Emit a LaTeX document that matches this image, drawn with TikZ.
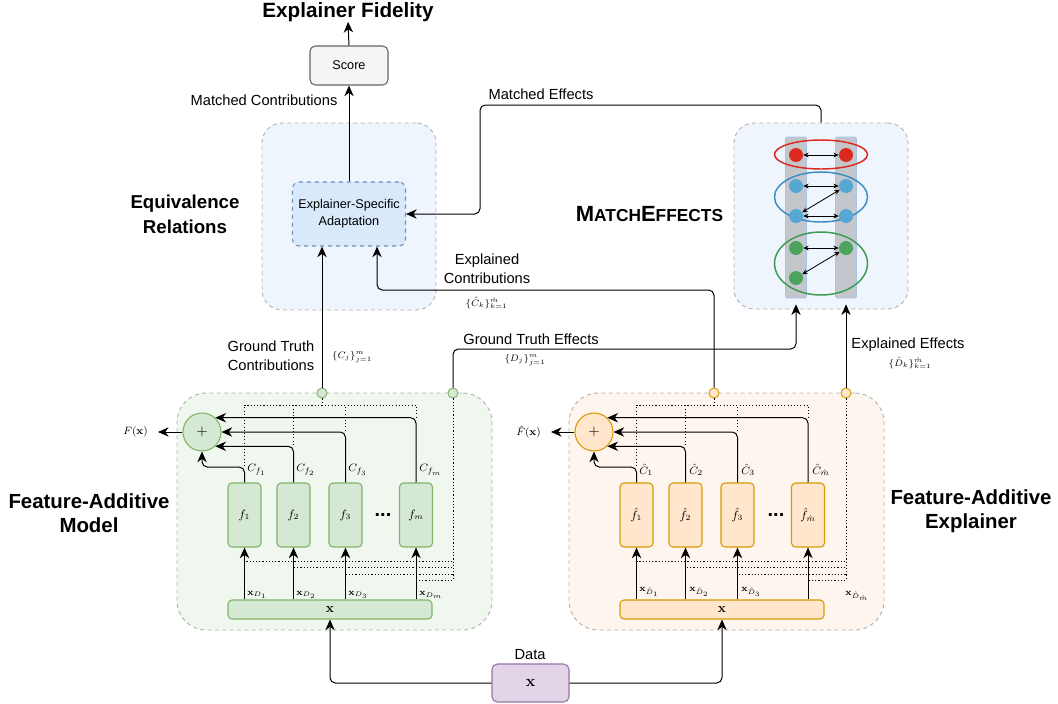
\documentclass[tikz,border=0pt]{standalone}
\usepackage[no-math]{fontspec}
\setmainfont{Liberation Sans}
\usetikzlibrary{arrows.meta,shapes.geometric,calc}
\definecolor{gfill}{HTML}{D5E8D4}\definecolor{gline}{HTML}{82B366}
\definecolor{ofill}{HTML}{FFE6CC}\definecolor{oline}{HTML}{D79B00}
\definecolor{bfill}{HTML}{DAE8FC}\definecolor{bline}{HTML}{6C8EBF}
\definecolor{pfill}{HTML}{E1D5E7}\definecolor{pline}{HTML}{9673A6}
\definecolor{sfill}{HTML}{F5F5F5}\definecolor{sline}{HTML}{666666}
\definecolor{cline}{HTML}{B3B3B3}
\definecolor{lbfill}{HTML}{EFF5FD}
\definecolor{lgfill}{HTML}{F0F7EF}
\definecolor{lofill}{HTML}{FDF5EE}
\definecolor{barfill}{HTML}{C3C7CC}
\definecolor{barline}{HTML}{A9C4EB}
\definecolor{rdot}{HTML}{DC2A1E}
\definecolor{bdot}{HTML}{55A7D4}\definecolor{bell}{HTML}{3A8DC0}
\definecolor{gdot}{HTML}{4CA35E}\definecolor{gell}{HTML}{3D9A50}
\begin{document}
\begin{tikzpicture}[x=0.75pt,y=-0.75pt,
 arr/.style={-{Stealth[length=8pt,width=7pt,inset=2.5pt]}, line width=0.75pt},
 darr/.style={{Stealth[length=4pt,width=3.5pt]}-{Stealth[length=4pt,width=3.5pt]}, line width=0.6pt},
 dotl/.style={line width=0.7pt, dash pattern=on 0.8pt off 1.6pt},
 container/.style={draw=cline, dash pattern=on 3pt off 2.5pt, line width=0.7pt, rounded corners=15pt, inner sep=0pt},
 lbl/.style={font=\fontsize{11}{14}\selectfont, align=center, inner sep=0pt},
 big/.style={font=\bfseries\fontsize{14}{18.5}\selectfont, align=center, inner sep=0pt},
 ml/.style={font=\fontsize{7.5}{8}\selectfont, inner sep=0pt},
 cl/.style={font=\fontsize{8}{9}\selectfont, inner sep=0pt, anchor=west},
 xl/.style={font=\fontsize{7}{8}\selectfont, inner sep=0pt, anchor=west},
 fbox/.style={rounded corners=3pt, minimum width=24.75pt, minimum height=48pt, inner sep=0pt, line width=0.8pt, font=\fontsize{9}{10}\selectfont},
 xbar/.style={rounded corners=3pt, minimum width=153pt, minimum height=14.25pt, inner sep=0pt, line width=0.8pt, font=\fontsize{10}{10}\selectfont},
 sumc/.style={circle, minimum size=28.5pt, inner sep=0pt, line width=0.8pt, font=\fontsize{11}{12}\selectfont},
 smallc/.style={circle, minimum size=7.5pt, inner sep=0pt, line width=0.7pt},
 dotn/.style={circle, minimum size=10.5pt, inner sep=0pt},
 ell/.style={ellipse, line width=1.1pt, minimum width=69.75pt, inner sep=0pt},
 bar/.style={fill=barfill, draw=barline, line width=0.5pt, minimum width=15.75pt, minimum height=120.75pt, inner sep=0pt, rounded corners=1pt},
 dotsty/.style={inner sep=0pt, font=\bfseries\fontsize{15}{15}\selectfont}
]
\useasboundingbox (0,0) rectangle (1058,704);
\fill[white] (0,0) rectangle (1058,704);

% containers
\node[container, fill=lbfill, minimum width=130.5pt, minimum height=140.25pt] (eq) at (349,216.5) {};
\node[container, fill=lbfill, minimum width=130.5pt, minimum height=139.5pt] (me) at (821,216) {};
\node[container, fill=lgfill, minimum width=236.25pt, minimum height=177.75pt, rounded corners=22pt] (fam) at (334.5,511.5) {};
\node[container, fill=lofill, minimum width=236.25pt, minimum height=177.75pt, rounded corners=22pt] (fae) at (726.5,511.5) {};

% top
\node[big, font=\bfseries\fontsize{15.5}{18}\selectfont] (title) at (348,12) {Explainer Fidelity};
\node[draw=sline, fill=sfill, rounded corners=4pt, minimum width=58.5pt, minimum height=29.25pt, inner sep=0pt, line width=0.8pt, font=\fontsize{9.5}{11}\selectfont] (score) at (349,65.5) {Score};
\node[draw=bline, fill=bfill, dashed, rounded corners=5pt, minimum width=84.75pt, minimum height=48pt, inner sep=0pt, line width=0.8pt, font=\fontsize{9.5}{13}\selectfont, align=center] (esa) at (349,214) {Explainer-Specific\\Adaptation};
\draw[arr] (score.north) -- (title.south);
\draw[arr] (esa.north) -- (score.south);

% big labels
\node[big] (eqlbl) at (185,214.5) {Equivalence\\Relations};
\node[big, font=\bfseries\fontsize{16.5}{18}\selectfont] (melbl) at (649.5,214) {M{\fontsize{13}{13}\selectfont ATCH}E{\fontsize{13}{13}\selectfont FFECTS}};
\node[big, font=\bfseries\fontsize{15.3}{18}\selectfont] (famlbl) at (89,513) {Feature-Additive\\Model};
\node[big, font=\bfseries\fontsize{15.3}{18}\selectfont] (faelbl) at (971,511) {Feature-Additive\\Explainer};

% match effects internals
\node[bar] (lbar) at (796,217.5) {};
\node[bar] (rbar) at (846,217.5) {};
\node[ell, draw=rdot, minimum height=21.75pt] (ered) at (821,154.5) {};
\node[ell, draw=bell, minimum height=37.5pt] (eblue) at (821,197) {};
\node[ell, draw=gell, minimum height=47.25pt] (egreen) at (821,263.5) {};
\node[dotn, fill=rdot] (r1) at (796,155) {};
\node[dotn, fill=rdot] (r2) at (846,155) {};
\node[dotn, fill=bdot] (b1) at (796,186) {};
\node[dotn, fill=bdot] (b2) at (846,186) {};
\node[dotn, fill=bdot] (b3) at (796,216) {};
\node[dotn, fill=bdot] (b4) at (846,216) {};
\node[dotn, fill=gdot] (g1) at (796,248) {};
\node[dotn, fill=gdot] (g2) at (846,248) {};
\node[dotn, fill=gdot] (g3) at (796,278) {};
\draw[darr] (r1) -- (r2);
\draw[darr] (b1) -- (b2);
\draw[darr] (b2) -- (b3);
\draw[darr] (b3) -- (b4);
\draw[darr] (g1) -- (g2);
\draw[darr] (g2) -- (g3);

% small connector circles
\node[smallc, fill=gfill, draw=gline] (gc1) at (322,393) {};
\node[smallc, fill=gfill, draw=gline] (gc2) at (453,393) {};
\node[smallc, fill=ofill, draw=oline] (oc1) at (714,393) {};
\node[smallc, fill=ofill, draw=oline] (oc2) at (846,393) {};

% main connectors
\coordinate (mecorner) at (480,105);
\draw[arr, rounded corners=4pt] (me.north) |- (mecorner) |- (esa.east);
\draw[arr] (gc1.north) -- (gc1.north |- esa.south);
\coordinate (ecc) at (377,290);
\draw[arr, rounded corners=4pt] (oc1.north) |- (ecc) -- (ecc |- esa.south);
\coordinate (gec) at (796,349);
\draw[arr, rounded corners=4pt] (gc2.north) |- (gec) -- ($(lbar.south)+(0,6)$);
\draw[arr] (oc2.north) -- ($(rbar.south)+(0,6)$);

% connector labels
\node[lbl] (mclbl) at (264,100) {Matched Contributions};
\node[lbl] (melbl2) at (541,94) {Matched Effects};
\node[lbl] (eclbl) at (487,268.5) {Explained\\Contributions};
\node[lbl] (gclbl) at (271,356) {Ground Truth\\Contributions};
\node[lbl] (gelbl) at (531,339) {Ground Truth Effects};
\node[lbl] (eelbl) at (908,345) {Explained Effects};
\node[ml] (cj) at (352,357) {$\{C_j\}_{j=1}^{m}$};
\node[ml] (dj) at (525,360) {$\{D_j\}_{j=1}^{m}$};
\node[ml] (chk) at (486.5,303) {$\{\hat C_k\}_{k=1}^{\hat m}$};
\node[ml] (dhk) at (910,363) {$\{\hat D_k\}_{k=1}^{\hat m}$};

% ===== left: feature-additive model =====
\node[sumc, fill=gfill, draw=gline] (sumL) at (202,432) {$+$};
\node[font=\fontsize{8}{9}\selectfont, inner sep=0pt, anchor=east] (FL) at (148,432) {$F(\mathbf{x})$};
\draw[arr, shorten >=7.5pt] (sumL.west) -- (FL.east);
\node[fbox, fill=gfill, draw=gline] (f1) at (244.5,515) {$f_1$};
\node[fbox, fill=gfill, draw=gline] (f2) at (293.5,515) {$f_2$};
\node[fbox, fill=gfill, draw=gline] (f3) at (345.5,515) {$f_3$};
\node[fbox, fill=gfill, draw=gline] (fm) at (416,515) {$f_m$};
\node[dotsty] (dotsL) at (383,515) {...};
\node[xbar, fill=gfill, draw=gline] (xL) at (330,609.5) {$\mathbf{x}$};
\draw[arr] (f1.south |- xL.north) -- (f1.south);
\draw[arr] (f2.south |- xL.north) -- (f2.south);
\draw[arr] (f3.south |- xL.north) -- (f3.south);
\draw[arr] (fm.south |- xL.north) -- (fm.south);
\node[xl] (xd1) at (247,595) {$\mathbf{x}_{D_1}$};
\node[xl] (xd2) at (296,595) {$\mathbf{x}_{D_2}$};
\node[xl] (xd3) at (348,595) {$\mathbf{x}_{D_3}$};
\node[xl] (xdm) at (419,595) {$\mathbf{x}_{D_m}$};
\coordinate (c1L) at (244.5,467);
\draw[arr, rounded corners=4pt] (f1.north) -- (c1L) -| (sumL.south);
\draw[arr, rounded corners=4pt] (f2.north) |- (sumL.-47);
\draw[arr, rounded corners=4pt] (f3.north) |- (sumL.east);
\draw[arr, rounded corners=4pt] (fm.north) |- (sumL.47);
\node[cl] (cf1) at (247,470) {$C_{f_1}$};
\node[cl] (cf2) at (296,470) {$C_{f_2}$};
\node[cl] (cf3) at (348,470) {$C_{f_3}$};
\node[cl] (cfm) at (419,470) {$C_{f_m}$};
\coordinate (tdL) at (322,405);
\coordinate (bd1) at (244.5,561);
\coordinate (bd2) at (293.5,567);
\coordinate (bd3) at (345.5,574);
\coordinate (bd4) at (416,580);
\draw[dotl] (gc1.south) -- (tdL) -| (c1L);
\draw[dotl] (tdL) -| (f2.north |- sumL.-47);
\draw[dotl] (tdL) -| (f3.north |- sumL.east);
\draw[dotl] (tdL) -| (fm.north |- sumL.47);
\draw[dotl] (gc2.south) |- (bd1);
\draw[dotl] (gc2.south) |- (bd2);
\draw[dotl] (gc2.south) |- (bd3);
\draw[dotl] (gc2.south) |- (bd4);

% ===== right: feature-additive explainer =====
\node[sumc, fill=ofill, draw=oline] (sumR) at (594,432) {$+$};
\node[font=\fontsize{8}{9}\selectfont, inner sep=0pt, anchor=east] (FR) at (541,432) {$\hat F(\mathbf{x})$};
\draw[arr, shorten >=7.5pt] (sumR.west) -- (FR.east);
\node[fbox, fill=ofill, draw=oline] (h1) at (636.5,515) {$\hat f_1$};
\node[fbox, fill=ofill, draw=oline] (h2) at (685.5,515) {$\hat f_2$};
\node[fbox, fill=ofill, draw=oline] (h3) at (737.5,515) {$\hat f_3$};
\node[fbox, fill=ofill, draw=oline] (hm) at (808,515) {$\hat f_{\hat m}$};
\node[dotsty] (dotsR) at (776,515) {...};
\node[xbar, fill=ofill, draw=oline] (xR) at (722,609.5) {$\mathbf{x}$};
\draw[arr] (h1.south |- xR.north) -- (h1.south);
\draw[arr] (h2.south |- xR.north) -- (h2.south);
\draw[arr] (h3.south |- xR.north) -- (h3.south);
\draw[arr] (hm.south |- xR.north) -- (hm.south);
\node[xl] (xh1) at (639,592) {$\mathbf{x}_{\hat D_1}$};
\node[xl] (xh2) at (689,592) {$\mathbf{x}_{\hat D_2}$};
\node[xl] (xh3) at (741,592) {$\mathbf{x}_{\hat D_3}$};
\node[xl] (xhm) at (845,596) {$\mathbf{x}_{\hat D_{\hat m}}$};
\coordinate (c1R) at (636.5,467);
\draw[arr, rounded corners=4pt] (h1.north) -- (c1R) -| (sumR.south);
\draw[arr, rounded corners=4pt] (h2.north) |- (sumR.-47);
\draw[arr, rounded corners=4pt] (h3.north) |- (sumR.east);
\draw[arr, rounded corners=4pt] (hm.north) |- (sumR.47);
\node[cl] (ch1) at (639,470) {$\hat C_1$};
\node[cl] (ch2) at (689,470) {$\hat C_2$};
\node[cl] (ch3) at (741,470) {$\hat C_3$};
\node[cl] (chm) at (812,470) {$\hat C_{\hat m}$};
\coordinate (tdR) at (714,405);
\coordinate (be1) at (636.5,561);
\coordinate (be2) at (685.5,567);
\coordinate (be3) at (737.5,574);
\coordinate (be4) at (808,580);
\draw[dotl] (oc1.south) -- (tdR) -| (c1R);
\draw[dotl] (tdR) -| (h2.north |- sumR.-47);
\draw[dotl] (tdR) -| (h3.north |- sumR.east);
\draw[dotl] (tdR) -| (hm.north |- sumR.47);
\draw[dotl] (oc2.south) |- (be1);
\draw[dotl] (oc2.south) |- (be2);
\draw[dotl] (oc2.south) |- (be3);
\draw[dotl] (oc2.south) |- (be4);

% data
\node[fill=pfill, draw=pline, rounded corners=4pt, minimum width=57.75pt, minimum height=28.5pt, inner sep=0pt, line width=0.8pt, font=\fontsize{12}{12}\selectfont] (data) at (530.5,683) {$\mathbf{x}$};
\node[lbl] (datalbl) at (530,655) {Data};
\draw[arr, rounded corners=4pt] (data.west) -| (xL.south);
\draw[arr, rounded corners=4pt] (data.east) -| (xR.south);
\end{tikzpicture}
\end{document}
